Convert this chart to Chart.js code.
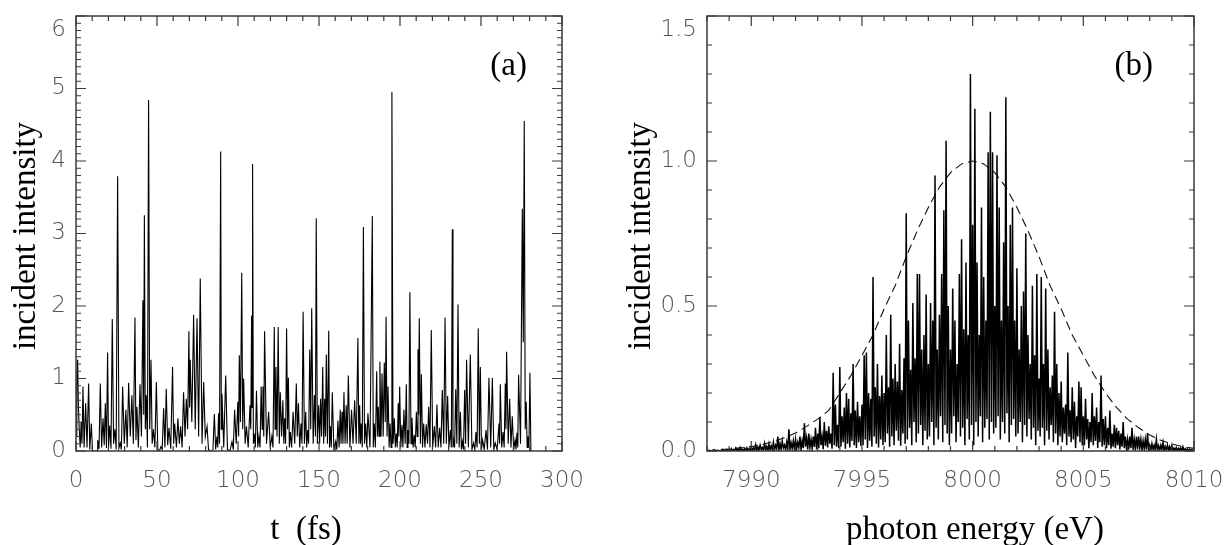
<!DOCTYPE html>
<html lang="en">
<head>
    <meta charset="UTF-8">
    <title>incident intensity</title>
    <script src="https://cdn.jsdelivr.net/npm/chart.js"></script>
    <style>
        html, body { margin: 0; padding: 0; background: #fff; }
        #wrap { position: relative; width: 1226px; height: 545px; }
        canvas { position: absolute; top: 0; }
        #chartA { left: 0; }
        #chartB { left: 613px; }
    </style>
</head>
<body>
<div id="wrap">
    <canvas id="chartA" width="613" height="545"></canvas>
    <canvas id="chartB" width="613" height="545"></canvas>
</div>

<script>
    const pulseA = [
        [0,0.2],[0.5,0.9],[1.0,1.26],[1.5,0.6],[2.0,0.3],[2.6,0.05],[3.2,0.4],[3.7,0.1],[4.3,0.89],[5.0,0.05],
        [5.95,0.66],[6.8,0.05],[7.8,0.93],[8.5,0.02],[9.45,0.38],[10.2,0],[13.0,0],[13.4,0.15],[14.2,0.03],[15.0,0.93],
        [15.8,0.05],[16.7,0.45],[17.4,0.08],[18.1,0.66],[18.8,0.04],[19.5,1.36],[20.1,0.05],[20.8,0.35],[21.6,0.03],[22.4,1.82],
        [23.2,0.1],[24.0,0.3],[24.8,0.02],[25.7,3.79],[26.5,0.04],[27.3,0.11],[28.0,0.02],[28.8,0.89],[29.8,0.1],[30.8,0.57],
        [31.6,0.05],[32.5,0.94],[33.5,0.2],[34.5,0.77],[35.4,0.1],[36.4,1.84],[37.0,0.15],[37.6,0.61],[38.5,0.05],[39.5,0.92],
        [40.4,0.2],[41.3,2.08],[41.8,0.5],[42.2,3.25],[42.8,0.3],[43.4,0.77],[44.1,0.05],[44.8,4.84],[45.5,0.3],[46.3,1.26],
        [47.0,0.1],[47.8,0.3],[48.7,0.05],[49.6,0.95],[50.5,0.02],[51.5,0],[52.4,0.06],[53.2,0.02],[54.1,0.59],[54.9,0.05],
        [55.7,0.86],[56.6,0.08],[57.4,0.32],[58.5,0.03],[59.6,1.16],[60.3,0.1],[60.9,0.38],[62.0,0.05],[62.9,0.45],[63.8,0.1],
        [64.6,0.34],[65.5,0.05],[66.4,0.81],[67.3,0.2],[68.1,0.72],[68.9,0.3],[69.7,1.65],[70.1,0.6],[70.5,1.26],[71.5,0.4],
        [72.6,1.88],[73.6,0.3],[74.7,1.83],[75.7,0.2],[76.7,2.38],[77.8,0.1],[78.8,0.95],[79.8,0.2],[80.9,0.34],[81.8,0.02],
        [83.0,0],[84.5,0],[85.4,0.51],[86.2,0.02],[87.0,0.2],[87.5,0.05],[88.0,0.52],[88.6,0.1],[89.3,4.13],[89.7,0.3],
        [90.1,0.79],[91.2,0.05],[92.4,1.04],[93.5,0.02],[95.0,0],[96.3,0.13],[97.1,0.02],[97.9,0.57],[98.9,0.1],[99.9,0.68],
        [100.4,0.2],[100.8,1.32],[101.5,0.4],[102.3,2.46],[102.9,0.3],[103.5,1.0],[104.4,0.1],[105.2,0.34],[106.3,0.05],[107.4,0.63],
        [107.9,0.3],[108.4,1.87],[108.7,0.6],[109.0,3.96],[109.5,0.1],[110.0,0.24],[110.7,0.05],[111.4,0.83],[112.2,0.05],[112.9,0.2],
        [113.6,0.05],[114.3,0.89],[114.9,0.3],[115.4,0.89],[115.9,0.2],[116.4,1.65],[117.6,0.1],[118.9,0.54],[119.9,0.05],[120.9,0.2],
        [121.6,0.05],[122.4,1.71],[122.9,0.3],[123.4,1.16],[124.1,0.2],[124.8,1.71],[125.5,0.1],[126.1,0.81],[126.9,0.2],[127.7,0.7],
        [128.3,0.1],[128.8,0.45],[129.4,0.1],[130.0,1.69],[130.6,0.3],[131.1,1.01],[131.7,0.05],[132.3,0.26],[133.1,0.05],[134.0,0.54],
        [135.0,0.1],[136.0,0.93],[136.6,0.2],[137.3,0.66],[138.1,0.05],[138.9,0.38],[139.5,0.1],[140.2,1.92],[141.0,0.1],[141.8,0.54],
        [142.4,0.05],[143.0,0.29],[143.6,0.1],[144.3,1.4],[144.9,0.3],[145.5,1.97],[146.4,0.1],[147.2,0.77],[147.8,0.2],[148.3,3.21],
        [149.0,0.1],[149.8,0.63],[150.4,0.1],[151.0,0.72],[151.6,0.2],[152.3,1.16],[152.9,0.1],[153.5,0.72],[154.0,0.2],[154.5,1.33],
        [155.2,0.1],[156.0,1.66],[156.5,0.05],[157.0,0.34],[157.6,0.05],[158.2,0.81],[159.2,0.02],[160.3,0.13],[161.0,0.02],[161.7,0.42],
        [162.4,0.05],[163.1,0.57],[163.6,0.1],[164.2,0.54],[164.8,0.1],[165.4,0.81],[166.1,0.1],[166.8,0.63],[167.4,0.1],[168.1,1.04],
        [169.1,0.05],[170.1,0.57],[171.0,0.1],[172.0,0.7],[173.0,0.1],[174.0,1.56],[174.6,0.1],[175.1,0.63],[175.6,0.1],[176.1,0.38],
        [176.7,0.05],[177.4,3.09],[178.1,0.1],[178.8,0.38],[179.5,0.05],[180.2,0.52],[181.5,0.05],[182.9,3.24],[183.5,0.05],[184.1,0.38],
        [184.8,0.05],[185.6,1.1],[186.1,0.2],[186.6,0.61],[187.1,0.2],[187.6,1.23],[188.3,0.2],[188.9,1.07],[189.6,0.2],[190.3,1.22],
        [190.9,0.4],[191.4,1.85],[192.0,0.2],[192.6,0.89],[193.3,0.05],[193.9,0.38],[194.5,0.05],[195.0,4.95],[195.7,0.1],[196.5,0.45],
        [197.1,0.05],[197.7,0.24],[198.3,0.05],[198.9,0.66],[199.3,0.2],[199.8,0.89],[200.5,0.05],[201.2,0.36],[201.8,0.05],[202.4,0.57],
        [203.2,0.1],[203.9,0.92],[204.4,0.05],[204.9,0.29],[205.5,0.1],[206.1,2.19],[206.8,0.1],[207.4,0.46],[208.1,0.05],[208.8,0.22],
        [209.4,0.05],[210.1,0.54],[210.6,0.2],[211.1,1.4],[211.5,0.5],[211.9,1.83],[212.6,0.1],[213.2,1.06],[213.9,0.05],[214.6,0.38],
        [215.4,0.05],[216.2,0.37],[217.0,0.1],[217.7,0.61],[218.5,0.05],[219.3,1.67],[220.2,0.05],[221.2,0.34],[222.0,0.05],[222.8,0.64],
        [223.6,0.05],[224.5,0.32],[225.3,0.05],[226.1,0.84],[227.0,0.1],[227.8,1.84],[228.6,0.1],[229.4,0.76],[230.2,0.05],[231.1,0.29],
        [231.7,0.05],[232.3,3.06],[232.7,0.05],[233.1,0.15],[233.7,0.05],[234.4,0.85],[235.1,0.1],[235.8,2.02],[236.5,0.05],[237.3,0.54],
        [237.9,0.02],[238.5,0.13],[239.2,0.02],[239.9,0.84],[240.5,0.1],[241.1,1.26],[242.2,0.05],[243.4,1.33],[244.4,0.02],[245.4,0.11],
        [246.2,0.02],[246.9,0.26],[247.6,0.05],[248.3,1.69],[249.0,0.1],[249.6,1.16],[250.3,0.02],[251.0,0.15],[252.0,0.02],[253.1,0.29],
        [254.0,0.02],[254.9,1.01],[256.0,0.05],[257.0,1.01],[257.9,0.02],[258.8,0.11],[260.0,0.02],[261.1,0.38],[261.5,0.1],[261.9,0.92],
        [262.8,0.05],[263.6,0.26],[264.3,0.05],[265.0,0.93],[265.4,0.3],[265.8,1.37],[266.8,0.1],[267.7,0.72],[268.5,0.05],[269.3,0.48],
        [270.2,0.02],[271.0,0.15],[271.6,0.02],[272.2,0.25],[272.7,0.05],[273.2,1.05],[274.4,0.1],[275.5,3.34],[276.1,1.5],[276.7,4.55],
        [277.3,0.3],[277.9,0.68],[278.5,0.05],[279.0,0.2],[279.6,0.05],[280.2,1.08],[280.8,0],[281.5,0]
    ];

    // (b) spectrum sampled every 0.05 eV from 7988 eV, one row per eV (peak, dip, peak, dip ...)
    const specStart = 7988, specStep = 0.05;
    const spectrumB = [
        0.002,0,0.003,0,0.001,0,0.004,0,0.002,0,0.003,0,0.001,0,0.004,0,0.002,0,0.005,0,                                      // 7988
        0.006,0.001,0.008,0,0.005,0.002,0.01,0.001,0.007,0,0.012,0.002,0.006,0.001,0.009,0,0.011,0.002,0.008,0.001,             // 7989
        0.015,0.002,0.01,0.004,0.022,0.001,0.014,0.003,0.02,0.005,0.012,0.002,0.026,0.004,0.016,0.001,0.024,0.003,0.018,0.005,  // 7990
        0.03,0.004,0.02,0.008,0.05,0.002,0.025,0.006,0.035,0.01,0.02,0.003,0.03,0.007,0.075,0.004,0.028,0.009,0.035,0.005,      // 7991
        0.04,0.006,0.03,0.012,0.05,0.004,0.035,0.01,0.096,0.015,0.045,0.005,0.06,0.012,0.04,0.008,0.05,0.014,0.08,0.006,        // 7992
        0.06,0.01,0.115,0.02,0.05,0.006,0.1,0.018,0.07,0.012,0.085,0.025,0.06,0.008,0.27,0.02,0.16,0.015,0.09,0.01,             // 7993
        0.29,0.015,0.12,0.03,0.15,0.008,0.2,0.025,0.18,0.012,0.13,0.035,0.3,0.02,0.14,0.01,0.17,0.03,0.12,0.018,                // 7994
        0.16,0.02,0.33,0.04,0.34,0.01,0.2,0.035,0.18,0.015,0.6,0.05,0.22,0.025,0.3,0.012,0.19,0.04,0.26,0.02,                   // 7995
        0.2,0.03,0.4,0.06,0.22,0.015,0.47,0.05,0.25,0.02,0.3,0.07,0.24,0.035,0.37,0.018,0.21,0.06,0.32,0.025,                   // 7996
        0.82,0.04,0.45,0.08,0.28,0.02,0.51,0.1,0.32,0.03,0.61,0.06,0.61,0.09,0.35,0.02,0.4,0.07,0.54,0.04,                      // 7997
        0.3,0.05,0.51,0.1,0.45,0.02,0.95,0.08,0.35,0.04,0.47,0.12,0.61,0.03,0.83,0.09,1.07,0.06,0.5,0.02,                       // 7998
        0.35,0.06,0.56,0.12,0.45,0.03,0.3,0.1,0.61,0.05,0.73,0.08,0.42,0.02,0.65,0.11,0.4,0.04,1.3,0.09,                        // 7999
        0.78,0.02,1.18,0.1,0.65,0.05,0.4,0.12,0.84,0.03,0.6,0.08,0.45,0.11,1.03,0.04,1.17,0.1,1.03,0.06,                        // 8000
        0.5,0.08,1.02,0.12,0.84,0.04,0.45,0.1,0.72,0.06,1.22,0.13,0.5,0.03,0.78,0.09,0.84,0.11,0.45,0.05,                       // 8001
        0.63,0.06,0.35,0.1,0.5,0.03,0.55,0.09,0.75,0.05,0.4,0.11,0.3,0.04,0.57,0.08,0.33,0.02,0.61,0.07,                        // 8002
        0.25,0.05,0.6,0.08,0.3,0.02,0.56,0.07,0.35,0.04,0.22,0.09,0.26,0.03,0.48,0.06,0.3,0.02,0.2,0.05,                        // 8003
        0.24,0.03,0.15,0.06,0.16,0.02,0.34,0.05,0.14,0.03,0.22,0.04,0.17,0.01,0.12,0.05,0.24,0.03,0.22,0.02,                    // 8004
        0.12,0.02,0.18,0.04,0.11,0.01,0.1,0.03,0.2,0.02,0.12,0.035,0.15,0.01,0.1,0.03,0.26,0.015,0.11,0.02,                     // 8005
        0.12,0.01,0.08,0.02,0.14,0.008,0.06,0.015,0.09,0.01,0.08,0.02,0.07,0.005,0.06,0.015,0.1,0.01,0.05,0.008,                // 8006
        0.04,0.005,0.05,0.01,0.08,0.004,0.04,0.008,0.05,0.005,0.05,0.01,0.04,0.003,0.035,0.008,0.04,0.005,0.06,0.004,           // 8007
        0.02,0.003,0.025,0.005,0.02,0.002,0.04,0.004,0.018,0.002,0.02,0.005,0.03,0.001,0.015,0.004,0.02,0.002,0.015,0.003,      // 8008
        0.02,0.002,0.01,0.003,0.012,0.001,0.009,0.002,0.011,0.001,0.015,0.002,0.008,0.001,0.007,0.001,0.006,0.001,0.005,0.001,  // 8009
        0
    ];

    // (b) dashed envelope, every 0.5 eV from 7988 eV
    const envStart = 7988, envStep = 0.5;
    const envelopeB = [
        0.0, 0.005, 0.007, 0.011, 0.015, 0.022, 0.033, 0.046, 0.062, 0.085,
        0.11, 0.14, 0.2, 0.26, 0.33, 0.4, 0.49, 0.57, 0.67, 0.76,
        0.84, 0.91, 0.96, 0.99, 1.0, 0.99, 0.96, 0.91, 0.84, 0.76,
        0.67, 0.57, 0.49, 0.4, 0.33, 0.26, 0.2, 0.15, 0.11, 0.08,
        0.055, 0.037, 0.024, 0.015, 0.009
    ];

    // tick labels
    const ticksAX = [0, 50, 100, 150, 200, 250, 300];
    const ticksAY = [0, 1, 2, 3, 4, 5, 6];
    const ticksBX = [7990, 7995, 8000, 8005, 8010];
    const ticksBY = [0, 0.5, 1.0, 1.5];

    const tickFont = { family: '"DejaVu Sans"', size: 23, weight: '200' };
    const titleFont = '33px "Liberation Serif"';

    // frame, inward ticks on all four sides, titles
    function decoPlugin(d) {
        return {
            id: 'deco',
            afterDraw(chart) {
                const { ctx, chartArea: a, scales: { x, y } } = chart;
                ctx.save();
                ctx.strokeStyle = '#3a3a3a';
                ctx.lineWidth = 1.5;
                ctx.strokeRect(a.left, a.top, a.right - a.left, a.bottom - a.top);

                ctx.lineWidth = 1.2;
                ctx.beginPath();
                const nx = Math.round((x.max - x.min) / d.xMinor);
                for (let i = 0; i <= nx; i++) {
                    const v = x.min + i * d.xMinor;
                    const r = v / d.xMajor;
                    const len = Math.abs(r - Math.round(r)) < 1e-6 ? 10 : 5;
                    const px = x.getPixelForValue(v);
                    ctx.moveTo(px, a.bottom); ctx.lineTo(px, a.bottom - len);
                    ctx.moveTo(px, a.top); ctx.lineTo(px, a.top + len);
                }
                const ny = Math.round((y.max - y.min) / d.yMinor);
                for (let i = 0; i <= ny; i++) {
                    const v = y.min + i * d.yMinor;
                    const r = v / d.yMajor;
                    const len = Math.abs(r - Math.round(r)) < 1e-6 ? 10 : 5;
                    const py = y.getPixelForValue(v);
                    ctx.moveTo(a.left, py); ctx.lineTo(a.left + len, py);
                    ctx.moveTo(a.right, py); ctx.lineTo(a.right - len, py);
                }
                ctx.stroke();

                ctx.fillStyle = '#000';
                ctx.font = titleFont;
                ctx.textBaseline = 'middle';
                ctx.textAlign = 'center';
                ctx.fillText(d.xTitle, d.xTitleX, 530);
                ctx.textAlign = 'right';
                ctx.fillText(d.tag, d.tagX, 66);

                ctx.translate(d.yTitleX, 236);
                ctx.rotate(-Math.PI / 2);
                ctx.textAlign = 'center';
                ctx.fillText('incident intensity', 0, 0);
                ctx.restore();
            }
        };
    }

    function makeChart(id, datasets, sx, sy, pad, yAxisWidth, deco) {
        return new Chart(document.getElementById(id), {
            type: 'line',
            data: { datasets: datasets },
            options: {
                responsive: false,
                animation: false,
                events: [],
                layout: { padding: { top: 16, right: pad, left: 0, bottom: 0 } },
                plugins: { legend: { display: false }, tooltip: { enabled: false } },
                elements: { point: { radius: 0 }, line: { tension: 0 } },
                scales: {
                    x: {
                        type: 'linear', min: sx.min, max: sx.max,
                        grid: { display: false, drawTicks: false },
                        border: { display: false },
                        afterBuildTicks: s => { s.ticks = sx.ticks.map(v => ({ value: v })); },
                        afterFit: s => { s.height = 94; s.paddingLeft = 0; s.paddingRight = 0; },
                        ticks: { font: tickFont, color: '#555', padding: 16, maxRotation: 0, callback: v => String(v) }
                    },
                    y: {
                        type: 'linear', min: sy.min, max: sy.max,
                        grid: { display: false, drawTicks: false },
                        border: { display: false },
                        afterBuildTicks: s => { s.ticks = sy.ticks.map(v => ({ value: v })); },
                        afterFit: s => { s.width = yAxisWidth; s.paddingTop = 0; s.paddingBottom = 0; },
                        ticks: { font: tickFont, color: '#555', padding: 10, callback: sy.fmt }
                    }
                }
            },
            plugins: [decoPlugin(deco)]
        });
    }

    makeChart('chartA',
        [{
            data: pulseA.map(p => ({ x: p[0], y: p[1] })),
            borderColor: '#000', borderWidth: 1.1
        }],
        { min: 0, max: 300, ticks: ticksAX },
        { min: 0, max: 6, ticks: ticksAY, fmt: v => (v === 6 ? ['', '6'] : String(v)) },
        51, 76,
        { xMinor: 10, xMajor: 50, yMinor: 0.1, yMajor: 1, xTitle: 't  (fs)', xTitleX: 306, tag: '(a)', tagX: 527, yTitleX: 26 }
    );

    makeChart('chartB',
        [{
            data: spectrumB.map((v, i) => ({ x: specStart + i * specStep, y: v })),
            borderColor: '#000', borderWidth: 1.5
        }, {
            data: envelopeB.map((v, i) => ({ x: envStart + i * envStep, y: v })),
            borderColor: '#111', borderWidth: 1.1, borderDash: [9, 5]
        }],
        { min: 7988, max: 8010, ticks: ticksBX },
        { min: 0, max: 1.5, ticks: ticksBY, fmt: v => (v === 1.5 ? ['', '1.5'] : v.toFixed(1)) },
        32, 94,
        { xMinor: 1, xMajor: 5, yMinor: 0.1, yMajor: 0.5, xTitle: 'photon energy (eV)', xTitleX: 362, tag: '(b)', tagX: 540, yTitleX: 28 }
    );
</script>
</body>
</html>
